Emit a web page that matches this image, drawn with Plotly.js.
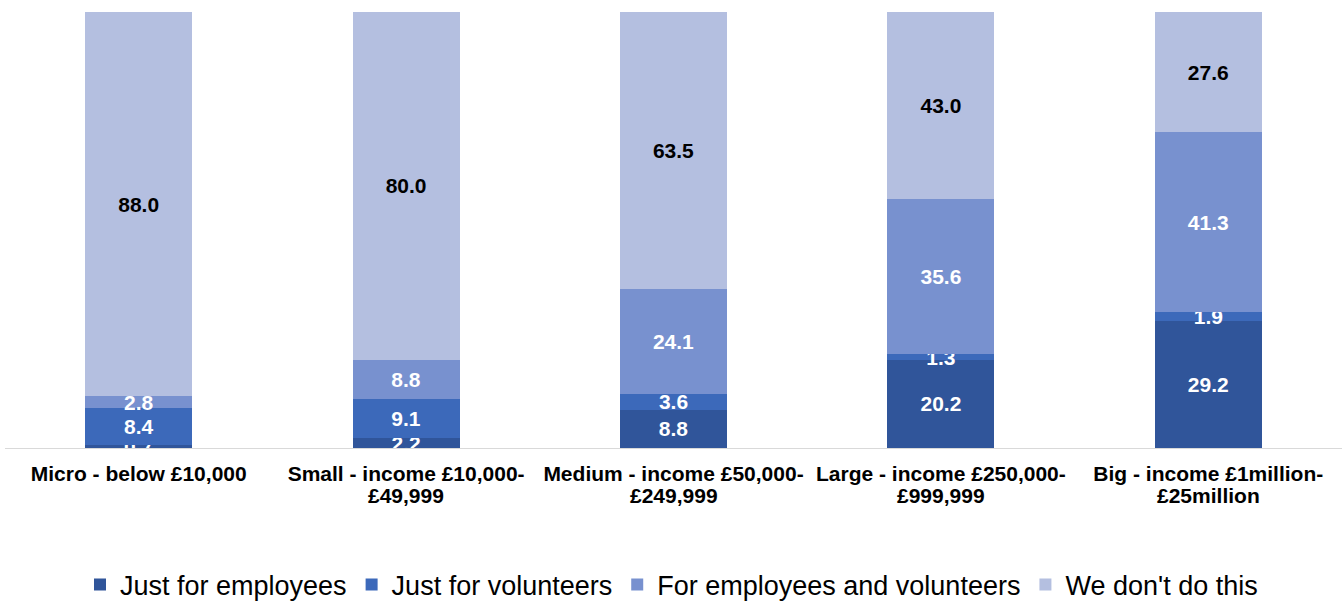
<!DOCTYPE html>
<html>
<head>
<meta charset="utf-8">
<script src="https://cdn.plot.ly/plotly-3.0.1.min.js"></script>
<style>html,body{margin:0;padding:0;background:#fff;}#chart{width:1343px;height:603px;}</style>
</head>
<body>
<div id="chart"></div>
<script>
const labelLine1 = ["Micro - below £10,000", "Small - income £10,000-", "Medium - income £50,000-", "Large - income £250,000-", "Big - income £1million-"];
const labelLine2 = ["", "£49,999", "£249,999", "£999,999", "£25million"];
const categories = labelLine1.map((l, i) => l + labelLine2[i]);

const seriesNames = ["Just for employees", "Just for volunteers", "For employees and volunteers", "We don't do this"];
const justEmployees = [0.7, 2.2, 8.8, 20.2, 29.2];
const justVolunteers = [8.4, 9.1, 3.6, 1.3, 1.9];
const bothGroups = [2.8, 8.8, 24.1, 35.6, 41.3];
const dontDoThis = [88.0, 80.0, 63.5, 43.0, 27.6];

const seriesValues = [justEmployees, justVolunteers, bothGroups, dontDoThis];
const colors = ["#30559A", "#3C69BA", "#7891CF", "#B4BFE0"];
const textColors = ["#ffffff", "#ffffff", "#ffffff", "#000000"];
const FONT = "Liberation Sans, Arial, sans-serif";

const traces = seriesValues.map((vals, k) => ({
  type: "bar",
  name: seriesNames[k],
  x: categories,
  y: vals,
  marker: {color: colors[k], line: {width: 0}},
  texttemplate: "%{y:.1f}",
  textposition: "inside",
  insidetextanchor: "middle",
  constraintext: "none",
  textangle: 0,
  textfont: {family: FONT, size: 21, weight: "bold", color: textColors[k]},
  hoverinfo: "skip"
}));

// second line of each category label, placed under the first line
const secondLineAnnotations = categories.map((c, i) => ({
  x: c,
  xref: "x",
  y: 0,
  yref: "paper",
  yanchor: "top",
  xanchor: "center",
  yshift: -34,
  text: labelLine2[i],
  showarrow: false,
  font: {family: FONT, size: 21, weight: "bold", color: "#000000"}
}));

const layout = {
  width: 1343,
  height: 603,
  margin: {l: 5, r: 1, t: 12, b: 155},
  barmode: "stack",
  bargap: 0.6,
  paper_bgcolor: "#ffffff",
  plot_bgcolor: "#ffffff",
  showlegend: true,
  font: {family: FONT, color: "#000000"},
  xaxis: {
    type: "category",
    tickmode: "array",
    tickvals: categories,
    ticktext: labelLine1,
    ticks: "",
    showline: true,
    linecolor: "#D9D9D9",
    linewidth: 1,
    showgrid: false,
    zeroline: false,
    ticklabelstandoff: 7,
    tickfont: {family: FONT, size: 21, weight: "bold", color: "#000000"},
    fixedrange: true
  },
  yaxis: {
    range: [0, 100],
    visible: false,
    showgrid: false,
    zeroline: false,
    fixedrange: true
  },
  annotations: secondLineAnnotations,
  legend: {
    orientation: "h",
    x: 0.5,
    xanchor: "center",
    xref: "container",
    y: 0.03,
    yref: "container",
    yanchor: "middle",
    font: {family: FONT, size: 27, color: "#000000"},
    traceorder: "normal",
    itemclick: false,
    itemdoubleclick: false
  }
};

Plotly.newPlot("chart", traces, layout, {displayModeBar: false, staticPlot: true});
</script>
</body>
</html>
